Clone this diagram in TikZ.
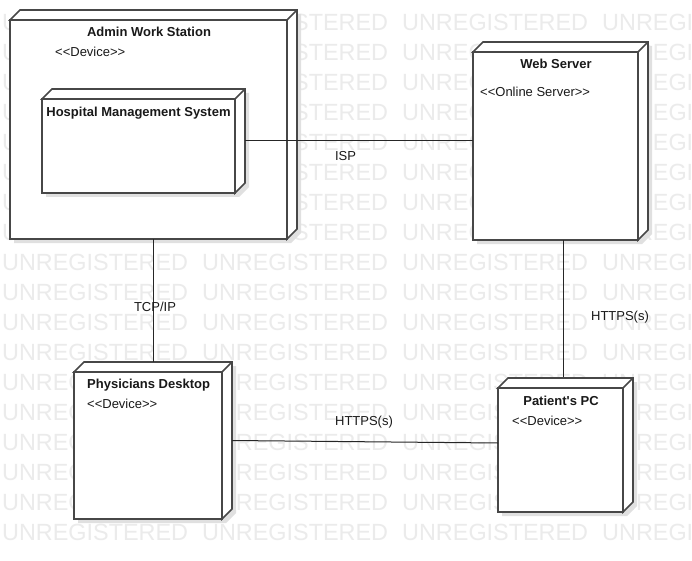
\documentclass[tikz,border=0pt]{standalone}
\usepackage{fontspec}
\newfontfamily\arialf{Liberation Sans}
\newcommand\cubebox[4]{%
  \fill[shadowc] (#1+4,#4+4) -- (#1+4,#2+4) -- (#1+14,#2-6) -- (#3+14,#2-6) -- (#3+14,#4-6) -- (#3+4,#4+4) -- cycle;
  \filldraw[boxline, fill=white] (#1,#2) -- (#1+10,#2-10) -- (#3+10,#2-10) -- (#3+10,#4-10) -- (#3,#4) -- (#3,#2) -- cycle;
  \draw[boxline] (#3,#2) -- (#3+10,#2-10);
}
\begin{document}
\begin{tikzpicture}[x=1pt,y=-1pt,
  boxline/.style={draw=black!72, line width=1.6pt, line join=miter},
  front/.style={boxline, fill=white, rectangle, inner sep=0pt, outer sep=0pt, anchor=north west},
  shadowc/.style={fill=black!12},
  conn/.style={draw=black!85, line width=1pt},
  lbl/.style={font=\arialf\fontsize{13}{15}\selectfont, inner sep=0pt, text=black!90},
  ttl/.style={lbl, font=\arialf\bfseries\fontsize{13}{15}\selectfont},
  wm/.style={font=\arialf\fontsize{23.4}{26}\selectfont, text=black!8, inner sep=0pt, anchor=base west}]
\useasboundingbox (0,0) rectangle (692,561);
\fill[white] (0,0) rectangle (692,561);
% watermark
\begin{scope}
\clip (0,0) rectangle (692,561);
\foreach \r in {0,...,17}{\foreach \c in {0,...,3}{
  \node[wm] (wm-\r-\c) at ({2+200*\c},{30.4+30*\r}) {UNREGISTERED};}}
\end{scope}
% Admin Work Station
\cubebox{10}{20}{287}{239}
\node[front, minimum width=277pt, minimum height=219pt] (aws) at (10,20) {};
% Hospital Management System
\cubebox{42}{99}{235}{193}
\node[front, minimum width=193pt, minimum height=94pt] (hms) at (42,99) {};
% Web Server
\cubebox{473}{52}{638}{240}
\node[front, minimum width=165pt, minimum height=188pt] (ws) at (473,52) {};
% Physicians Desktop
\cubebox{74}{372}{222}{519}
\node[front, minimum width=148pt, minimum height=147pt] (pd) at (74,372) {};
% Patient's PC
\cubebox{498}{388}{623}{512}
\node[front, minimum width=125pt, minimum height=124pt] (ppc) at (498,388) {};
% titles
\node[ttl, anchor=base] (t-aws) at (149,36.5) {Admin Work Station};
\node[lbl, anchor=base west] (s-aws) at (55,56.5) {<<Device>>};
\node[ttl, anchor=base] (t-hms) at (138.5,116.5) {Hospital Management System};
\node[ttl, anchor=base] (t-ws) at (556,68.5) {Web Server};
\node[lbl, anchor=base west] (s-ws) at (480,96.5) {<<Online Server>>};
\node[ttl, anchor=base west] (t-pd) at (87,388.5) {Physicians Desktop};
\node[lbl, anchor=base west] (s-pd) at (87,408.5) {<<Device>>};
\node[ttl, anchor=base] (t-ppc) at (561,405.5) {Patient\textquotesingle s PC};
\node[lbl, anchor=base west] (s-ppc) at (512,425.5) {<<Device>>};
% connectors
\coordinate (hmsR) at ([shift={(10,-5)}]hms.east);
\draw[conn] (hmsR) -- (hmsR -| ws.west);
\coordinate (pdT) at ([shift={(5,-10)}]pd.north);
\draw[conn] (pdT |- aws.south) -- (pdT);
\coordinate (ppcT) at ([shift={(3,-11)}]ppc.north);
\draw[conn] (ppcT |- ws.south) -- (ppcT);
\coordinate (pdR) at ([shift={(10,-5)}]pd.east);
\coordinate (ppcL) at ([yshift=7pt]ppc.west);
\draw[conn] (pdR) -- (ppcL);
% connector labels
\node[lbl, anchor=base] (l-isp) at (345.5,160.5) {ISP};
\node[lbl, anchor=base] (l-tcp) at (155,311.5) {TCP/IP};
\node[lbl, anchor=base] (l-https1) at (620,320.5) {HTTPS(s)};
\node[lbl, anchor=base] (l-https2) at (364,425.5) {HTTPS(s)};
\end{tikzpicture}
\end{document}
